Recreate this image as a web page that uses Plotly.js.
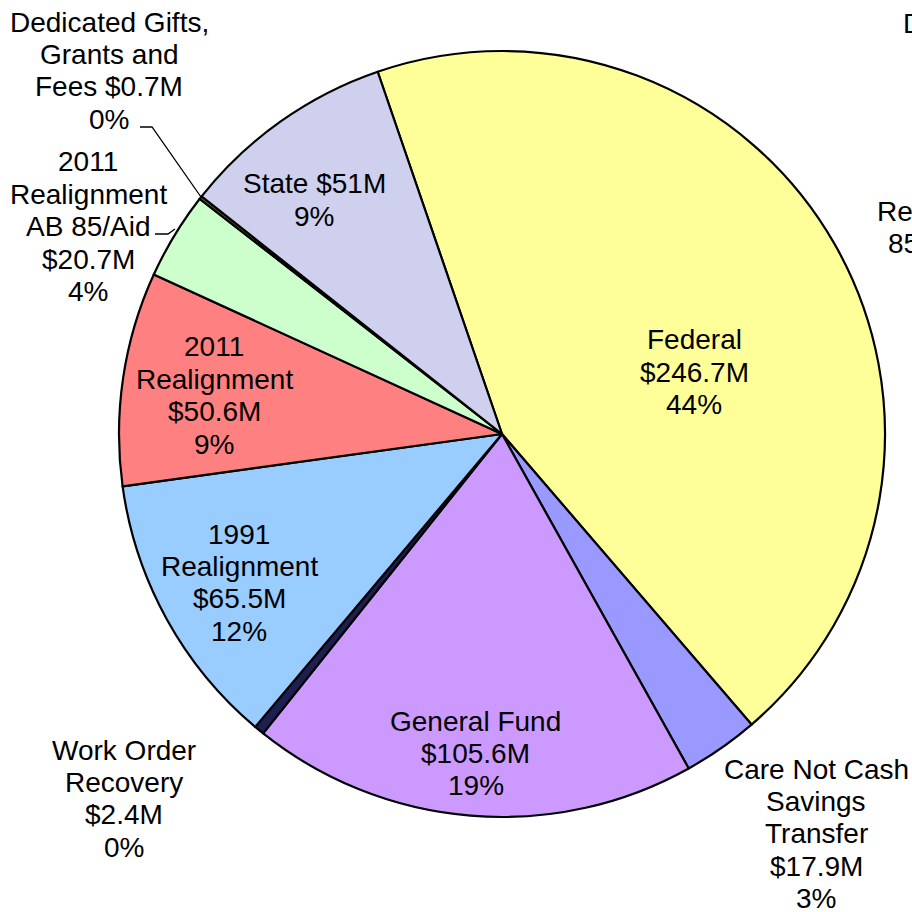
<!DOCTYPE html>
<html>
<head>
<meta charset="utf-8">
<script src="https://cdn.plot.ly/plotly-3.0.1.min.js"></script>
<style>
  html, body { margin: 0; padding: 0; background: #ffffff; }
  #chart { width: 912px; height: 912px; }
</style>
</head>
<body>
<div id="chart"></div>
<script>
// ---- data (clockwise order, starting with Federal) ----
const categories = [
  "Federal",
  "Care Not Cash Savings Transfer",
  "General Fund",
  "Work Order Recovery",
  "1991 Realignment",
  "2011 Realignment",
  "2011 Realignment AB 85/Aid",
  "Dedicated Gifts, Grants and Fees",
  "State"
];
const valuesM = [246.7, 17.9, 105.6, 2.4, 65.5, 50.6, 20.7, 0.7, 51];
const sliceColors = [
  "#FFFF99", "#9999FF", "#CC99FF", "#1E1E50", "#99CCFF",
  "#FF8080", "#CCFFCC", "#7A7A30", "#CFCFEE"
];
// label line templates: {v} = value, {p} = percent
const labelLines = [
  ["Federal", "{v}", "{p}"],
  ["Care Not Cash", "Savings", "Transfer", "{v}", "{p}"],
  ["General Fund", "{v}", "{p}"],
  ["Work Order", "Recovery", "{v}", "{p}"],
  ["1991", "Realignment", "{v}", "{p}"],
  ["2011", "Realignment", "{v}", "{p}"],
  ["2011", "Realignment", "AB 85/Aid", "{v}", "{p}"],
  ["Dedicated Gifts,", "Grants and", "Fees {v}", "{p}"],
  ["State {v}", "{p}"]
];
// label anchor (center x, first-line y) in pixels
const labelPos = [
  [694, 340], [816, 769], [476, 721], [124, 750], [239, 534],
  [214, 347], [88, 162], [109, 22], [314, 184]
];

// ---- layout constants ----
const W = 912, H = 912;
const CX = 502, CY = 434, R = 383;
const FONT = "Liberation Sans, Arial, sans-serif";
const FS = 28;
const LINE = 32.4;
const px = x => x / W;
const py = y => 1 - y / H;

const total = valuesM.reduce((a, b) => a + b, 0);
const fmtV = v => "$" + String(v) + "M";
const fmtP = v => Math.round(v / total * 100) + "%";

const annotations = [];
categories.forEach((c, i) => {
  labelLines[i].forEach((ln, k) => {
    const t = ln.replace("{v}", fmtV(valuesM[i])).replace("{p}", fmtP(valuesM[i]));
    annotations.push({
      xref: "paper", yref: "paper",
      x: px(labelPos[i][0]), y: py(labelPos[i][1] + k * LINE),
      xanchor: "center", yanchor: "middle",
      text: t, showarrow: false,
      font: { family: FONT, size: FS, color: "#000000" }
    });
  });
});

// labels partly cut off at the right edge of the picture (as in the reference)
const cutLabels = [["Dedicated", 901, 23], ["Realignment", 875, 211], ["85/Aid", 886, 243]];
cutLabels.forEach(c => {
  annotations.push({
    xref: "paper", yref: "paper",
    x: px(c[1]), y: py(c[2]),
    xanchor: "left", yanchor: "middle",
    text: c[0], showarrow: false,
    font: { family: FONT, size: FS, color: "#000000" }
  });
});

function pathFromPts(pts) {
  return pts.map((p, i) => (i ? "L" : "M") + px(p[0]).toFixed(5) + "," + py(p[1]).toFixed(5)).join(" ");
}
const shapes = [
  { type: "path", xref: "paper", yref: "paper",
    path: pathFromPts([[140, 127], [152, 127], [201, 197]]),
    line: { color: "#000000", width: 1.3 } },
  { type: "path", xref: "paper", yref: "paper",
    path: pathFromPts([[155, 234], [168, 234], [175, 229]]),
    line: { color: "#000000", width: 1.3 } }
];

const trace = {
  type: "pie",
  labels: categories,
  values: valuesM,
  sort: false,
  direction: "clockwise",
  rotation: -18.94,
  textinfo: "none",
  hoverinfo: "none",
  showlegend: false,
  marker: { colors: sliceColors, line: { color: "#000000", width: 2.2 } },
  domain: { x: [px(CX - R), px(CX + R)], y: [py(CY + R), py(CY - R)] }
};

const layout = {
  width: W, height: H,
  margin: { l: 0, r: 0, t: 0, b: 0 },
  paper_bgcolor: "#ffffff",
  plot_bgcolor: "#ffffff",
  showlegend: false,
  annotations: annotations,
  shapes: shapes,
  font: { family: FONT }
};

Plotly.newPlot("chart", [trace], layout, { staticPlot: true, displayModeBar: false });
</script>
</body>
</html>
